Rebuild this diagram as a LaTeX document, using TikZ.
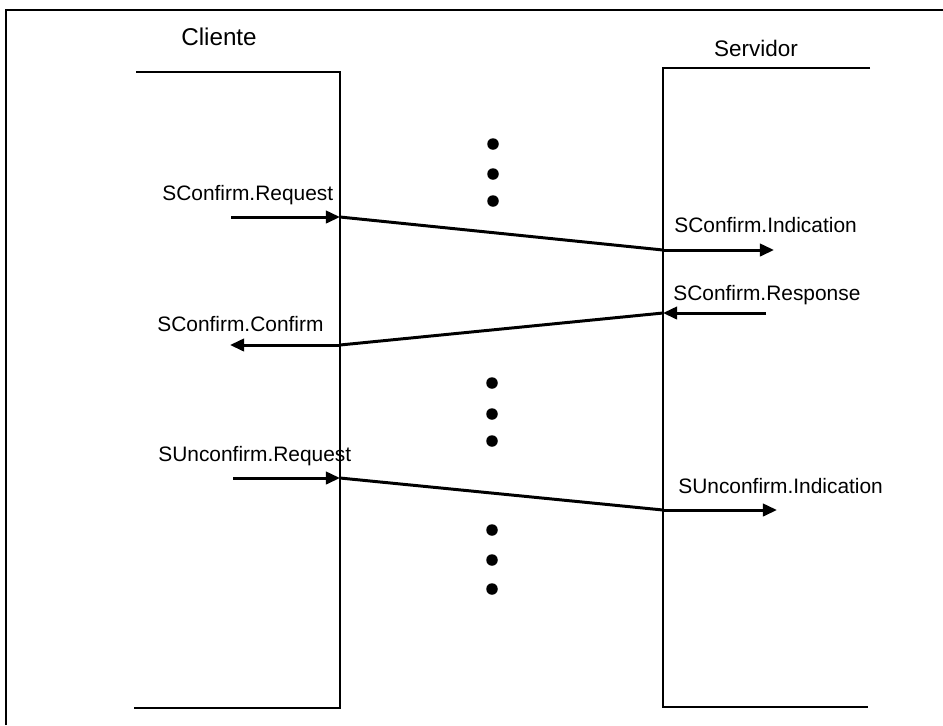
\documentclass[tikz,border=0pt]{standalone}
\usepackage{fontspec}
\setmainfont{Liberation Sans}
\usetikzlibrary{arrows.meta}
\begin{document}
\begin{tikzpicture}[x=0.02cm,y=-0.02cm,
  frame/.style={line width=1.2pt},
  lifeline/.style={line width=1.6pt},
  msg/.style={line width=1.7pt},
  arr/.style={msg,-{Triangle[length=8pt,width=7pt]}},
  lbl/.style={anchor=base west,inner sep=0pt,font=\fontsize{11.9}{14}\selectfont},
  title/.style={anchor=base,inner sep=0pt,font=\fontsize{12.8}{15}\selectfont},
  dot/.style={circle,fill,inner sep=0pt,minimum size=0.23cm}]
\useasboundingbox (0,0) rectangle (943,725);

% outer frame
\draw[frame] (6,725) -- (6,10) -- (943,10);

% lifelines
\draw[lifeline] (136,72) -- (340,72) -- (340,708) -- (134,708);
\draw[lifeline] (870,68) -- (663,68) -- (663,707) -- (868,707);

% titles
\node[title,font=\fontsize{13.8}{16}\selectfont] (cli) at (219,45) {Cliente};
\node[title] (srv) at (756,56) {Servidor};

% message end points
\coordinate (reqA) at (231,217);
\coordinate (reqB) at (340,217);
\coordinate (indA) at (663,250);
\coordinate (indB) at (774,250);

\coordinate (rspA) at (766,313);
\coordinate (rspB) at (663,313);
\coordinate (cnfA) at (340,345);
\coordinate (cnfB) at (230,345);

\coordinate (ureqA) at (233,478);
\coordinate (ureqB) at (340,478);
\coordinate (uindA) at (663,510);
\coordinate (uindB) at (777,510);

% confirmed service
\draw[arr] (reqA) -- (reqB);
\draw[msg] (reqB) -- (indA);
\draw[arr] (indA) -- (indB);

\draw[arr] (rspA) -- (rspB);
\draw[msg] (rspB) -- (cnfA);
\draw[arr] (cnfA) -- (cnfB);

% unconfirmed service
\draw[arr] (ureqA) -- (ureqB);
\draw[msg] (ureqB) -- (uindA);
\draw[arr] (uindA) -- (uindB);

% labels
\node[lbl] (lreq) at (162,200) {SConfirm.Request};
\node[lbl] (lind) at (674,232) {SConfirm.Indication};
\node[lbl] (lrsp) at (673,300) {SConfirm.Response};
\node[lbl] (lcnf) at (157,331) {SConfirm.Confirm};
\node[lbl] (lureq) at (158,461) {SUnconfirm.Request};
\node[lbl] (luind) at (678,493) {SUnconfirm.Indication};

% ellipsis dots
\foreach \n/\y in {a/144,b/174,c/201} \node[dot] (d1\n) at (493,\y) {};
\foreach \n/\y in {a/383,b/414,c/441} \node[dot] (d2\n) at (492,\y) {};
\foreach \n/\y in {a/530,b/560,c/589} \node[dot] (d3\n) at (492,\y) {};
\end{tikzpicture}
\end{document}
